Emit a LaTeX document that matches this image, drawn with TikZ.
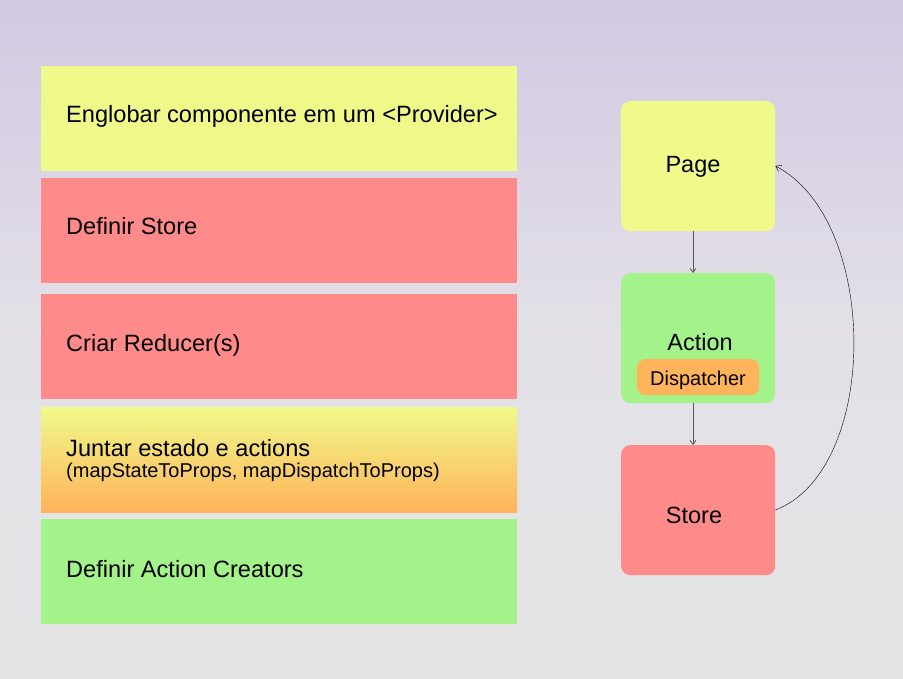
\documentclass[tikz,border=0pt]{standalone}
\usepackage{fontspec}
\setmainfont{Liberation Sans}
\usetikzlibrary{arrows.meta}
\definecolor{bgtop}{HTML}{D3C8E3}
\definecolor{bgmid}{HTML}{E3E1E7}
\definecolor{bgbot}{HTML}{E4E4E4}
\definecolor{cyel}{HTML}{F0FA8A}
\definecolor{cred}{HTML}{FF8A8A}
\definecolor{cgreen}{HTML}{A3F28A}
\definecolor{corange}{HTML}{FFB35A}
\definecolor{carrow}{HTML}{555555}
\tikzset{
  x=1pt,y=-1pt,
  band/.style={minimum width=476pt,minimum height=105pt,inner sep=0pt,anchor=north west},
  bandtext/.style={anchor=base west,font=\fontsize{23.6}{28}\selectfont,inner sep=0pt},
  flowbox/.style={minimum width=154pt,minimum height=130pt,rounded corners=9pt,inner sep=0pt,anchor=north west},
  flowtext/.style={anchor=base,font=\fontsize{23.5}{28}\selectfont,inner sep=0pt},
  flowarrow/.style={draw=carrow,thick,-{Straight Barb[length=4pt,width=6pt]}},
}
\begin{document}
\begin{tikzpicture}
\useasboundingbox (0,0) rectangle (903,679);
\shade[top color=bgtop,bottom color=bgbot,middle color=bgmid] (0,0) rectangle (903,679);
% left bands
\node[band,fill=cyel] (b1) at (41,66) {};
\node[band,fill=cred] (b2) at (41,178) {};
\node[band,fill=cred] (b3) at (41,294) {};
\shade[top color=cyel,bottom color=corange] (41,407) rectangle (517,512);
\node[band] (b4) at (41,407) {};
\node[band,fill=cgreen] (b5) at (41,519) {};
\node[bandtext] (t1) at (66,123) {Englobar componente em um <Provider>};
\node[bandtext] (t2) at (66,235) {Definir Store};
\node[bandtext] (t3) at (66,352) {Criar Reducer(s)};
\node[bandtext] (t4) at (66,456) {Juntar estado e actions};
\node[bandtext,font=\fontsize{20}{24}\selectfont] (t4b) at (66,477) {(mapStateToProps, mapDispatchToProps)};
\node[bandtext] (t5) at (66,577) {Definir Action Creators};
% right flow
\node[flowbox,fill=cyel] (page) at (621,101) {};
\node[flowbox,fill=cgreen] (action) at (621,273) {};
\node[flowbox,fill=cred] (store) at (621,445) {};
\node[flowtext] (pagelbl) at (693,173) {Page};
\node[flowtext] (actionlbl) at (700,351) {Action};
\node[fill=corange,rounded corners=8pt,minimum width=122pt,minimum height=36pt,inner sep=0pt,anchor=north west] (disp) at (637,359) {};
\node[anchor=base,inner sep=0pt,font=\fontsize{20}{24}\selectfont] (displbl) at (698,385) {Dispatcher};
\node[flowtext] (storelbl) at (694,523) {Store};
\draw[flowarrow] (page.south -| 693,0) -- (action.north -| 693,0);
\draw[flowarrow] (action.south -| 693,0) -- (store.north -| 693,0);
\draw[thin,-{Straight Barb[length=5pt,width=7pt]}] (store.east |- 0,510) .. controls (880,470) and (880,220) .. (page.east |- 0,166);
\end{tikzpicture}
\end{document}
